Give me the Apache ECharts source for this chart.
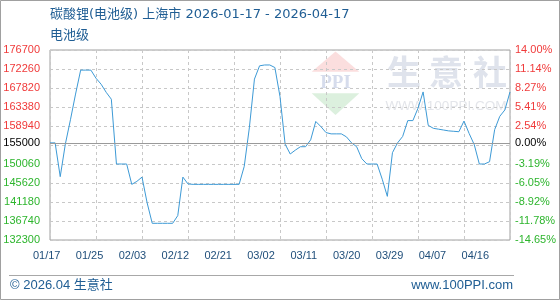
<!DOCTYPE html>
<html><head><meta charset="utf-8">
<script src="https://cdn.jsdelivr.net/npm/echarts@6/dist/echarts.min.js"></script>
<style>html,body{margin:0;padding:0;background:#fff}#c{width:560px;height:300px}</style>
</head><body><div id="c"></div>
<script>
const titleText = '碳酸锂(电池级) 上海市 2026-01-17 - 2026-04-17';
const subtitleText = '电池级';
const footerLeft = '© 2026.04 生意社';
const footerRight = 'www.100PPI.com';
const startDate = [2026, 0, 17];
const baseValue = 155000;

const prices = [
  155000,155000,147100,154700,160400,166400,172000,172000,172000,170100,
  168700,166800,165200,150060,150060,150060,145300,146000,147000,141000,
  136200,136200,136200,136200,136200,138000,147000,145400,145300,145300,
  145300,145300,145300,145300,145300,145300,145300,145300,149500,158500,
  169900,173000,173200,173200,172600,165800,154700,152400,153300,154100,
  154100,155700,160000,158800,157400,157100,157100,157100,156400,155000,
  154100,151300,150060,150060,150060,146500,142500,152700,155000,156500,
  160200,160200,163100,166900,159100,158400,158200,158000,157800,157700,
  157600,160100,157200,154600,150060,150060,150600,158100,161200,162700,
  166900
];
const yTicks = [176700,172260,167820,163380,158940,155000,150060,145620,141180,136740,132300];
const yLabels = ['176700','172260','167820','163380','158940','155000','150060','145620','141180','136740','132300'];
const pctLabels = ['14.00%','11.14%','8.27%','5.41%','2.54%','0.00%','-3.19%','-6.05%','-8.92%','-11.78%','-14.65%'];
const xLabels = ['01/17','01/25','02/03','02/12','02/21','03/02','03/11','03/20','03/29','04/07','04/16'];

const dates = [];
(function () {
  const t0 = Date.UTC(startDate[0], startDate[1], startDate[2]);
  for (let i = 0; i < prices.length; i++) {
    const d = new Date(t0 + i * 86400000);
    dates.push(String(d.getUTCMonth() + 1).padStart(2, '0') + '/' + String(d.getUTCDate()).padStart(2, '0'));
  }
})();

function nearestIdx(v) {
  v = Number(v); let bi = 0, bd = Infinity;
  for (let i = 0; i < yTicks.length; i++) { const dd = Math.abs(yTicks[i] - v); if (dd < bd) { bd = dd; bi = i; } }
  return bi;
}
function labelColor(v) {
  const t = yTicks[nearestIdx(v)];
  return t > baseValue ? '#f03a3a' : (t < baseValue ? '#2db52d' : '#000000');
}
const axisFont = 'Liberation Sans, Arial, sans-serif';
const titleColor = '#205e94';
const wmColor = '#dfe3ec';

const chart = echarts.init(document.getElementById('c'), null, { renderer: 'canvas' });
chart.setOption({
  animation: false,
  backgroundColor: '#ffffff',
  grid: [
    { left: 50, right: 50, top: 50, bottom: 60, show: true, borderColor: '#a0a0a0', borderWidth: 1, containLabel: false },
    { left: 25.3, right: 63.3, top: 50, bottom: 60, show: false, containLabel: false }
  ],
  xAxis: [
    {
      type: 'category', gridIndex: 0, data: dates, boundaryGap: false,
      axisLine: { show: false }, axisTick: { show: false }, axisLabel: { show: false },
      splitLine: { show: true, interval: 8, lineStyle: { color: '#c8c8c8', type: [3, 3], width: 1 } }
    },
    {
      type: 'category', gridIndex: 1, data: xLabels, boundaryGap: true,
      axisLine: { show: false }, axisTick: { show: false }, splitLine: { show: false },
      axisLabel: { show: true, interval: 0, margin: 10, color: '#1f4e7a', fontSize: 11, fontFamily: axisFont }
    }
  ],
  yAxis: [
    {
      type: 'value', gridIndex: 0, position: 'left', min: 132300, max: 176700, interval: 4440,
      axisLine: { show: false }, axisTick: { show: false },
      splitLine: { show: true, lineStyle: { color: '#c8c8c8', type: [3, 3], width: 1 } },
      axisLabel: {
        customValues: yTicks, margin: 10, fontSize: 11, fontFamily: axisFont,
        formatter: (v) => yLabels[nearestIdx(v)], color: (v) => labelColor(v)
      }
    },
    {
      type: 'value', gridIndex: 0, position: 'right', min: 132300, max: 176700, interval: 4440,
      axisLine: { show: false }, axisTick: { show: false }, splitLine: { show: false },
      axisLabel: {
        customValues: yTicks, margin: 5, fontSize: 11, fontFamily: axisFont,
        formatter: (v) => pctLabels[nearestIdx(v)], color: (v) => labelColor(v)
      }
    },
    { type: 'value', gridIndex: 1, show: false }
  ],
  series: [
    {
      type: 'line', xAxisIndex: 0, yAxisIndex: 0, data: prices, symbol: 'none', smooth: false,
      lineStyle: { color: '#3d9ad6', width: 1 }, itemStyle: { color: '#3d9ad6' }, z: 3,
      markLine: {
        silent: true, symbol: ['none', 'none'], label: { show: false },
        lineStyle: { color: '#9a9a9a', type: 'solid', width: 1 },
        data: [{ yAxis: baseValue }]
      }
    }
  ],
  graphic: [
    { type: 'rect', z: 100, silent: true, shape: { x: 0.5, y: 0.5, width: 559, height: 299 }, style: { fill: 'none', stroke: '#a0a0a0', lineWidth: 1 } },
    { type: 'text', silent: true, style: { x: 50, y: 15, text: titleText, fill: titleColor, font: '13px "DejaVu Sans", "Noto Sans CJK SC", sans-serif', verticalAlign: 'middle', align: 'left' } },
    { type: 'text', silent: true, style: { x: 50, y: 35.5, text: subtitleText, fill: titleColor, font: '13px "DejaVu Sans", "Noto Sans CJK SC", sans-serif', verticalAlign: 'middle', align: 'left' } },
    { type: 'line', silent: true, shape: { x1: 9, y1: 275.5, x2: 514, y2: 275.5 }, style: { stroke: '#a8a8a8', lineWidth: 1 } },
    { type: 'text', silent: true, style: { x: 10, y: 285, text: footerLeft, fill: titleColor, font: '13px "Liberation Sans", "Noto Sans CJK SC", sans-serif', verticalAlign: 'middle', align: 'left' } },
    { type: 'text', silent: true, style: { x: 513, y: 285, text: footerRight, fill: titleColor, font: '13px "Liberation Sans", sans-serif', verticalAlign: 'middle', align: 'right' } },
    { type: 'polygon', z: -10, silent: true, shape: { points: [[311.7, 71.7], [359.3, 71.7], [335.5, 51.5]] }, style: { fill: '#fbdede' } },
    { type: 'polygon', z: -10, silent: true, shape: { points: [[311.7, 93.3], [359.3, 93.3], [335.5, 115]] }, style: { fill: '#dcf0de' } },
    { type: 'text', z: -10, silent: true, style: { x: 335.5, y: 83, text: 'PPI', fill: '#d6dcec', font: 'bold 19px "Liberation Serif", serif', align: 'center', verticalAlign: 'middle' } },
    { type: 'text', z: -10, silent: true, style: { x: 404, y: 72, text: '生', fill: wmColor, font: 'bold 34px "Noto Sans CJK SC", sans-serif', align: 'center', verticalAlign: 'middle' } },
    { type: 'text', z: -10, silent: true, style: { x: 446, y: 72, text: '意', fill: wmColor, font: 'bold 34px "Noto Sans CJK SC", sans-serif', align: 'center', verticalAlign: 'middle' } },
    { type: 'text', z: -10, silent: true, style: { x: 490, y: 72, text: '社', fill: wmColor, font: 'bold 34px "Noto Sans CJK SC", sans-serif', align: 'center', verticalAlign: 'middle' } },
    { type: 'text', z: -10, silent: true, style: { x: 446, y: 106, text: 'WWW.100PPI.COM', fill: '#e3e5ea', font: '13.5px "Liberation Sans", sans-serif', align: 'center', verticalAlign: 'middle' } }
  ]
});
</script>
</body></html>
